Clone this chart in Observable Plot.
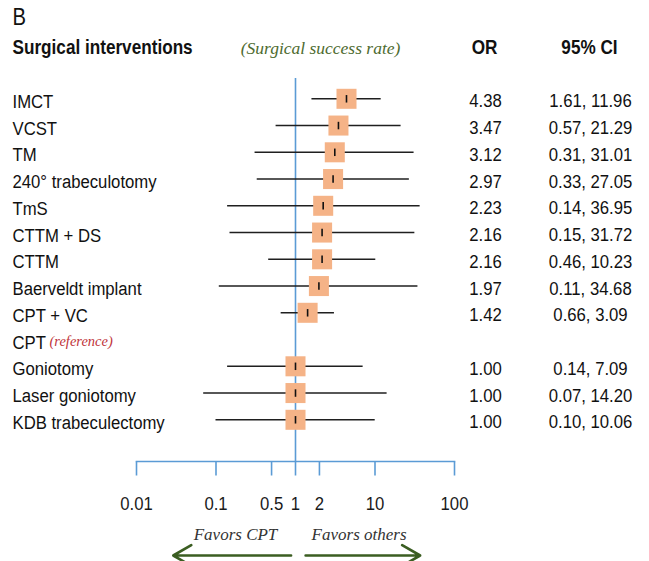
<!DOCTYPE html>
<html><head><meta charset="utf-8">
<script src="https://cdn.jsdelivr.net/npm/d3@7"></script>
<script src="https://cdn.jsdelivr.net/npm/@observablehq/plot@0.6"></script>
<style>body{margin:0;background:#fff;} #chart svg{display:block;}</style>
</head><body><div id="chart"></div>
<script>
const interventions = ["IMCT","VCST","TM","240° trabeculotomy","TmS","CTTM + DS","CTTM","Baerveldt implant","CPT + VC","CPT","Goniotomy","Laser goniotomy","KDB trabeculectomy"];
const oddsRatio = [4.38,3.47,3.12,2.97,2.23,2.16,2.16,1.97,1.42,null,1.00,1.00,1.00];
const ciLow  = [1.61,0.57,0.31,0.33,0.14,0.15,0.46,0.11,0.66,null,0.14,0.07,0.10];
const ciHigh = [11.96,21.29,31.01,27.05,36.95,31.72,10.23,34.68,3.09,null,7.09,14.20,10.06];
const axisTicks = [0.01,0.1,0.5,1,2,10,100];
const favorLabels = ["Favors CPT","Favors others"];
const favorLabelX = [0.176, 6.3];
const arrowFrom = [0.88, 1.34];
const arrowTo = [0.029, 37];

const rows = interventions.map((label,i)=>({i,label,or:oddsRatio[i],lo:ciLow[i],hi:ciHigh[i]}));
const est = rows.filter(d=>d.or!=null);
const fmt2 = d3.format(".2f");

const W=649,H=561, mL=136, mR=195, mT=78, mB=100;
const yR=[98.3,419.3];
const pxToRow = px => (px - yR[0])/((yR[1]-yR[0])/12);

const sans = "'Liberation Sans',Arial,sans-serif";
const serif = "'Liberation Serif','Times New Roman',serif";
const fs = 19;
const narrowK = 0.88;

const favors = favorLabels.map((t,k)=>({t,x:favorLabelX[k]}));
const arrows = arrowFrom.map((f,k)=>({f,t:arrowTo[k]}));
const blue = "#5b9bd5";

const chart = Plot.plot({
  width:W, height:H, marginLeft:mL, marginRight:mR, marginTop:mT, marginBottom:mB,
  style:{fontFamily:sans, fontSize:fs+"px", color:"#111", background:"#fff"},
  x:{type:"log", domain:[0.01,100], axis:null},
  y:{type:"linear", domain:[0,12], range:yR, axis:null},
  marks:[
    Plot.ruleX([1],{stroke:blue, strokeWidth:1.6}),
    Plot.frame({anchor:"bottom", stroke:blue, strokeWidth:1.6}),
    Plot.link(axisTicks,{x1:d=>d, x2:d=>d, y1:()=>pxToRow(461), y2:()=>pxToRow(475), stroke:blue, strokeWidth:1.6}),
    Plot.text(axisTicks,{x:d=>d, text:d=>String(d), frameAnchor:"bottom", lineAnchor:"middle", dy:42.5, fontSize:fs, fill:"#1a1a1a"}),
    Plot.ruleY(est,{y:"i", x1:"lo", x2:"hi", stroke:"#1f1f1f", strokeWidth:1.5}),
    Plot.dot(est,{x:"or", y:"i", symbol:"square", r:11.3, fill:"#f5b387", stroke:null}),
    Plot.link(est,{x1:"or", x2:"or", y1:d=>d.i-0.14, y2:d=>d.i+0.14, stroke:"#111", strokeWidth:1.6}),
    Plot.text(rows,{y:"i", text:"label", frameAnchor:"left", lineAnchor:"middle", dx:-124, dy:3, textAnchor:"start", fontSize:fs, fill:"#111"}),
    Plot.text(rows.filter(d=>d.or==null),{y:"i", text:()=>"(reference)", frameAnchor:"left", lineAnchor:"middle", dx:-87, dy:2, textAnchor:"start", fontFamily:serif, fontStyle:"italic", fontSize:14.5, fill:"#c0333a"}),
    Plot.text(est,{y:"i", text:d=>fmt2(d.or), frameAnchor:"right", lineAnchor:"middle", dx:31, dy:2.5, textAnchor:"middle", fontSize:fs, fill:"#111"}),
    Plot.text(est,{y:"i", text:d=>fmt2(d.lo)+", "+fmt2(d.hi), frameAnchor:"right", lineAnchor:"middle", dx:136, dy:2.5, textAnchor:"middle", fontSize:fs, fill:"#111"}),
    Plot.text(["B"],{frameAnchor:"top-left", lineAnchor:"middle", dx:-124, dy:-60.6, textAnchor:"start", fontSize:23, fill:"#111"}),
    Plot.text(["Surgical interventions"],{frameAnchor:"top-left", lineAnchor:"middle", dx:-124, dy:-30.5, textAnchor:"start", fontWeight:"bold", fontSize:fs+0.5, fill:"#111"}),
    Plot.text(["(Surgical success rate)"],{frameAnchor:"top", lineAnchor:"middle", dx:25, dy:-30.5, textAnchor:"middle", fontFamily:serif, fontStyle:"italic", fontSize:17.5, fill:"#4e6b30"}),
    Plot.text(["OR"],{frameAnchor:"top-right", lineAnchor:"middle", dx:30, dy:-30.5, textAnchor:"middle", fontWeight:"bold", fontSize:fs+0.5, fill:"#111"}),
    Plot.text(["95% CI"],{frameAnchor:"top-right", lineAnchor:"middle", dx:135, dy:-30.5, textAnchor:"middle", fontWeight:"bold", fontSize:fs+0.5, fill:"#111"}),
    Plot.text(favors,{x:"x", text:"t", frameAnchor:"bottom", lineAnchor:"middle", dy:73, textAnchor:"middle", fontFamily:serif, fontStyle:"italic", fontSize:17, fill:"#333"}),
    Plot.arrow(arrows,{x1:"f", x2:"t", y1:()=>pxToRow(555), y2:()=>pxToRow(555), stroke:"#3b5e22", strokeWidth:2.6, headLength:12, headAngle:60})
  ]
});
// condense the sans-serif text horizontally (the reference uses a narrow grotesque)
chart.querySelectorAll("text").forEach(el=>{
  const fam = el.closest("[font-family]");
  if (fam && /Serif/.test(fam.getAttribute("font-family"))) return;
  const t = el.getAttribute("transform")||"";
  el.setAttribute("transform", `${t} scale(${narrowK},1)`.trim());
});
document.getElementById("chart").appendChild(chart);
</script>
</body></html>
